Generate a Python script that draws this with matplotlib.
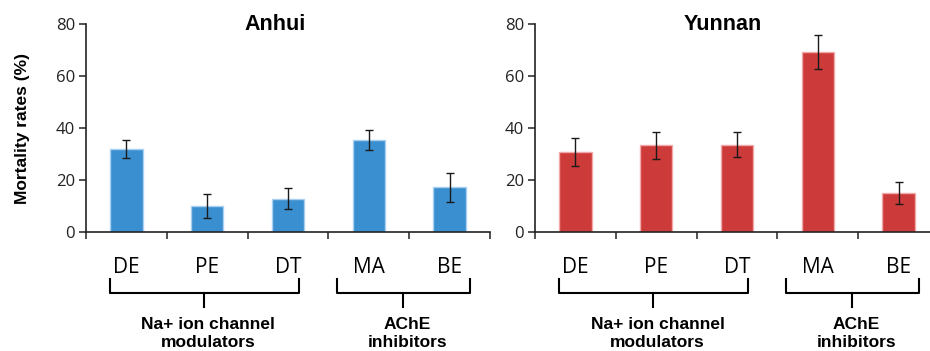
import numpy as np
import matplotlib.pyplot as plt
import matplotlib.transforms as mtransforms

# data
categories = ["DE", "PE", "DT", "MA", "BE"]
anhui_vals = [31.9, 10.0, 12.8, 35.3, 17.2]
anhui_err = [3.4, 4.7, 4.1, 3.9, 5.5]
yunnan_vals = [30.9, 33.3, 33.6, 69.3, 14.9]
yunnan_err = [5.4, 5.2, 4.8, 6.6, 4.3]
group_names = ["Na+ ion channel\nmodulators", "AChE\ninhibitors"]
group_spans = [(0.3, 2.63), (3.1, 4.75)]  # bracket extents in category units
yticks = [0, 20, 40, 60, 80]

plt.rcParams["font.family"] = ["Open Sans", "DejaVu Sans"]

fig = plt.figure(figsize=(9.3, 3.51), dpi=100)
ax1 = fig.add_axes([0.0925, 0.339, 0.4344, 0.5926])
ax2 = fig.add_axes([0.5753, 0.339, 0.4344, 0.5926])

panels = [
    (ax1, anhui_vals, anhui_err, "#3a8fd0", "#a9d0f0", "Anhui", 0.2957),
    (ax2, yunnan_vals, yunnan_err, "#cd3a3a", "#f2a9a9", "Yunnan", 0.777),
]

x = np.arange(len(categories)) + 0.5
for ax, vals, err, col, edge, title, tx in panels:
    ax.bar(x, vals, width=0.4, color=col, edgecolor=edge, linewidth=1.0, zorder=2)
    ax.errorbar(x, vals, yerr=err, fmt="none", ecolor="#1a1a1a",
                elinewidth=1.0, capsize=3, capthick=1.0, zorder=3)
    ax.set_xlim(0, len(categories))
    ax.set_ylim(0, 80)
    ax.set_yticks(yticks)
    ax.set_xticks(np.arange(len(categories) + 1))
    ax.set_xticklabels([])
    ax.tick_params(axis="y", direction="out", length=5, width=1.1,
                   labelsize=12, colors="#222222", pad=3)
    ax.tick_params(axis="x", direction="out", length=5, width=1.1, colors="#222222")
    for s in ["top", "right"]:
        ax.spines[s].set_visible(False)
    for s in ["left", "bottom"]:
        ax.spines[s].set_linewidth(1.2)
        ax.spines[s].set_color("#222222")

    trans = mtransforms.blended_transform_factory(ax.transData, ax.transAxes)
    for xi, c in zip(x, categories):
        ax.text(xi, -0.173, c, transform=trans, ha="center", va="center",
                fontsize=15, color="black", clip_on=False)
    for (lo, hi), name in zip(group_spans, group_names):
        mid = (lo + hi) / 2
        y_top, y_bar, y_tip = -0.225, -0.293, -0.36
        ax.plot([lo, lo, hi, hi], [y_top, y_bar, y_bar, y_top], transform=trans,
                color="black", lw=1.5, clip_on=False, solid_joinstyle="round")
        ax.plot([mid, mid], [y_bar, y_tip], transform=trans,
                color="black", lw=1.5, clip_on=False)
        ax.text(mid + 0.05, -0.488, name, transform=trans, ha="center", va="center",
                fontsize=12.5, fontweight="bold", family=["Liberation Sans"],
                linespacing=1.25, clip_on=False)

    fig.text(tx, 0.929, title, ha="center", va="center", fontsize=15.5,
             fontweight="bold", family=["Liberation Sans"])

fig.text(0.024, 0.635, "Mortality rates (%)", rotation=90, ha="center",
         va="center", fontsize=12.5, fontweight="bold", family=["Liberation Sans"])

fig.savefig("out.png", dpi=100)
